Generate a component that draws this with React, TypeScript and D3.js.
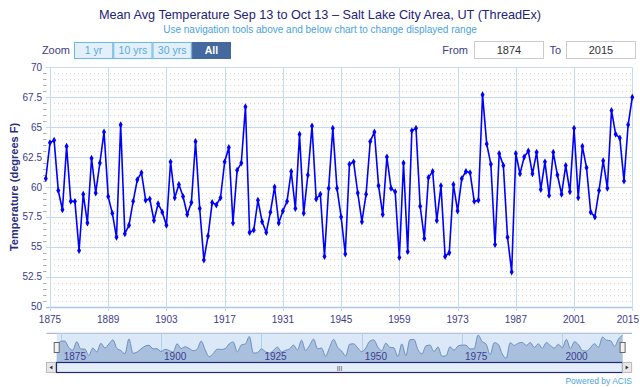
import React from 'react';
import * as d3 from 'd3';

// Mean avg temperature Sep 13 - Oct 13, Salt Lake City Area (ThreadEx)
const startYear = 1874;
const temps = [
  60.7, 63.7, 63.9, 59.7, 58.1, 63.4, 58.8, 58.8, 54.7, 59.4, // 1874-1883
  57.0, 62.4, 59.5, 62.0, 64.6, 59.2, 57.8, 55.8, 65.2, 56.1, // 1884-1893
  56.8, 58.8, 60.6, 61.2, 58.9, 59.0, 57.2, 58.6, 57.9, 56.8, // 1894-1903
  62.1, 59.1, 60.2, 59.2, 57.7, 58.7, 63.8, 58.2, 53.9, 55.9, // 1904-1913
  58.7, 58.5, 59.1, 62.1, 63.3, 57.0, 61.4, 62.0, 66.7, 56.2, // 1914-1923
  56.4, 58.9, 57.1, 56.2, 57.9, 60.0, 57.0, 58.0, 58.8, 61.3, // 1924-1933
  58.2, 64.4, 57.8, 61.0, 65.1, 59.0, 59.4, 54.2, 59.9, 64.9, // 1934-1943
  59.9, 57.5, 54.4, 61.9, 62.1, 59.5, 57.1, 59.4, 63.8, 64.6, // 1944-1953
  60.1, 57.7, 62.5, 59.9, 59.6, 54.1, 62.0, 54.6, 64.7, 64.9, // 1954-1963
  58.4, 55.7, 60.8, 61.3, 57.2, 60.1, 54.2, 54.5, 60.2, 58.0, // 1964-1973
  60.7, 61.3, 61.2, 58.8, 58.9, 67.7, 63.6, 61.9, 55.2, 62.8, // 1974-1983
  61.8, 55.8, 52.9, 62.8, 61.1, 62.5, 63.0, 61.1, 62.9, 59.8, // 1984-1993
  62.1, 59.3, 62.9, 61.0, 59.4, 61.8, 59.6, 64.9, 59.1, 63.4, // 1994-2003
  61.6, 57.9, 57.5, 59.7, 62.2, 59.9, 66.4, 64.4, 64.1, 60.5, // 2004-2013
  65.2, 67.5, // 2014-2015
];
const years = temps.map((_, i) => startYear + i);
const xTicks = [1875, 1889, 1903, 1917, 1931, 1945, 1959, 1973, 1987, 2001, 2015];
const yTicks = [50, 52.5, 55, 57.5, 60, 62.5, 65, 67.5, 70];
const navTicks = [1875, 1900, 1925, 1950, 1975, 2000];
const zoomButtons = ['1 yr', '10 yrs', '30 yrs', 'All'];

type Pt = { year: number; t: number };
const data: Pt[] = years.map((year, i) => ({ year, t: temps[i] }));

const FONT = '"Liberation Sans", Arial, sans-serif';
const NAVY = '#3c3c8c';

export default function App() {
  const width = 640;
  const height = 387;

  // main plot
  const x = d3.scaleLinear().domain([1874, 2015]).range([45.8, 632.3]);
  const y = d3.scaleLinear().domain([50, 70]).range([306.7, 67.3]);
  const line = d3.line<Pt>().x(d => x(d.year)).y(d => y(d.t));
  const minorTicks = d3.range(50, 70.001, 0.5).filter(v => !yTicks.includes(v));
  const diamond = d3.symbol().type(d3.symbolDiamond).size(14)() as string;

  // navigator
  const nx = d3.scaleLinear().domain([1874, 2015]).range([56.7, 622.6]);
  const ny = d3.scaleLinear().domain([52.9, 67.7]).range([358.3, 335]);
  const navTop = 333.3;
  const navBottom = 362.3;
  const navArea = d3.area<Pt>()
    .x(d => nx(d.year)).y0(navBottom).y1(d => ny(d.t))
    .curve(d3.curveMonotoneX);
  const navLine = d3.line<Pt>()
    .x(d => nx(d.year)).y(d => ny(d.t))
    .curve(d3.curveMonotoneX);

  // zoom buttons
  const btnX = d3.scaleBand().domain(zoomButtons).range([74, 231]);

  return (
    <svg width={width} height={height} style={{ position: 'absolute', left: 0, top: 0, fontFamily: FONT }}>
      <rect width={width} height={height} fill="#fff" />

      <text x={320} y={19} textAnchor="middle" fontSize={12.7} fill="#23237a">
        Mean Avg Temperature Sep 13 to Oct 13 – Salt Lake City Area, UT (ThreadEx)
      </text>
      <text x={320} y={33} textAnchor="middle" fontSize={10} fill="#4aa3df">
        Use navigation tools above and below chart to change displayed range
      </text>

      {/* range selector */}
      <text x={70} y={54} textAnchor="end" fontSize={11} fill={NAVY}>Zoom</text>
      {zoomButtons.map(b => {
        const active = b === 'All';
        const bx = btnX(b)!;
        return (
          <g key={b}>
            <rect x={bx + 0.5} y={42.5} width={btnX.bandwidth() - 1} height={16}
              fill={active ? '#43699f' : '#e3f0fb'} stroke={active ? '#43699f' : '#6ab8e8'} />
            <text x={bx + btnX.bandwidth() / 2} y={54} textAnchor="middle" fontSize={10.5}
              fontWeight={active ? 'bold' : 'normal'} fill={active ? '#fff' : '#5aaae0'}>{b}</text>
          </g>
        );
      })}
      <text x={468} y={54} textAnchor="end" fontSize={11} fill={NAVY}>From</text>
      <rect x={474.5} y={41.5} width={69} height={17} fill="#fff" stroke="#cccccc" />
      <text x={509} y={54} textAnchor="middle" fontSize={11} fill="#333">1874</text>
      <text x={561} y={54} textAnchor="end" fontSize={11} fill={NAVY}>To</text>
      <rect x={566.5} y={41.5} width={69} height={17} fill="#fff" stroke="#cccccc" />
      <text x={601} y={54} textAnchor="middle" fontSize={11} fill="#333">2015</text>

      {/* minor grid */}
      {minorTicks.map(v => (
        <g key={'m' + v}>
          <line x1={46} x2={632.3} y1={Math.round(y(v)) + 0.5} y2={Math.round(y(v)) + 0.5}
            stroke="#d4d4d4" strokeDasharray="1,3" />
          <line x1={43} x2={46} y1={Math.round(y(v)) + 0.5} y2={Math.round(y(v)) + 0.5} stroke="#b0b0b0" />
        </g>
      ))}
      {/* major grid */}
      {yTicks.map(v => (
        <g key={'y' + v}>
          <line x1={46} x2={632.3} y1={Math.round(y(v)) + 0.5} y2={Math.round(y(v)) + 0.5}
            stroke={v === 50 ? '#a9c8e4' : '#c4dbef'} strokeWidth={v === 50 ? 1.5 : 1} />
          <text x={42} y={y(v) + 3.5} textAnchor="end" fontSize={10} fill={NAVY}>{v}</text>
        </g>
      ))}
      {xTicks.map((t, i) => {
        const last = i === xTicks.length - 1;
        return (
          <g key={'x' + t}>
            <line x1={Math.round(x(t)) + 0.5} x2={Math.round(x(t)) + 0.5} y1={67.3} y2={311}
              stroke="#c4dbef" />
            <text x={last ? 639 : x(t)} y={323} textAnchor={last ? 'end' : 'middle'}
              fontSize={10} fill={NAVY}>{t}</text>
          </g>
        );
      })}
      <text transform="translate(18,187) rotate(-90)" textAnchor="middle" fontSize={11}
        fontWeight="bold" fill="#2a2a80">Temperature (degrees F)</text>

      {/* series */}
      <path d={line(data) ?? ''} fill="none" stroke="#0000ff" strokeWidth={1.6} />
      {data.map(d => (
        <path key={d.year} d={diamond} transform={`translate(${x(d.year)},${y(d.t)})`} fill="#0000ff" />
      ))}

      {/* navigator */}
      <line x1={46.5} x2={632} y1={navTop} y2={navTop} stroke="#9aa6c6" />
      <rect x={56.7} y={navTop + 0.5} width={622.6 - 56.7} height={navBottom - navTop - 0.5} fill="#dbe8f7" />
      {navTicks.map(t => (
        <line key={'ng' + t} x1={Math.round(nx(t)) + 0.5} x2={Math.round(nx(t)) + 0.5}
          y1={navTop} y2={navBottom} stroke="#b3d0ea" />
      ))}
      <path d={navArea(data) ?? ''} fill="#a8bfdd" />
      <path d={navLine(data) ?? ''} fill="none" stroke="#6d8fc0" strokeWidth={1} />
      {navTicks.map(t => (
        <text key={'nl' + t} x={nx(t) + 3} y={359.5} fontSize={10} fill={NAVY}>{t}</text>
      ))}
      {[56.7, 622.6].map((hx, i) => (
        <rect key={'h' + i} x={hx - 2.5} y={342.5} width={5} height={10} fill="#f2f2f2" stroke="#666" />
      ))}

      {/* scrollbar */}
      <rect x={46.5} y={362.5} width={585} height={10} fill="#eef3f9" stroke="#bbbbbb" />
      <rect x={56.5} y={362.5} width={566} height={10} fill="#e4eef9" stroke="#1f2a7a" strokeWidth={1.2} />
      <text x={339.6} y={370.5} textAnchor="middle" fontSize={7} fill="#555">III</text>
      <rect x={46.5} y={362.5} width={9} height={10} fill="#e8e8e8" stroke="#bbbbbb" />
      <path d="M52.5,365.5 L49.5,367.5 L52.5,369.5 Z" fill="#333" />
      <rect x={622.6} y={362.5} width={9} height={10} fill="#e8e8e8" stroke="#bbbbbb" />
      <path d="M625.6,365.5 L628.6,367.5 L625.6,369.5 Z" fill="#333" />

      <text x={632} y={384} textAnchor="end" fontSize={8.5} fill="#4aa3df">Powered by ACIS</text>
    </svg>
  );
}
